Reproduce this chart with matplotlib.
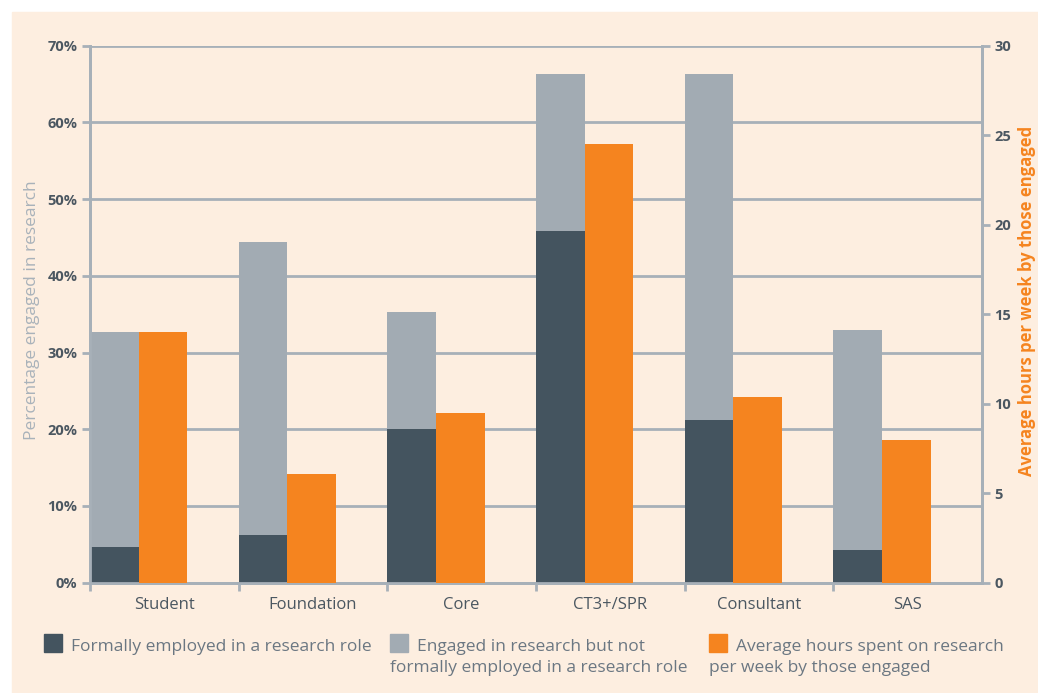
import matplotlib.pyplot as plt
from matplotlib.patches import Rectangle
import numpy as np

grades = ["Student", "Foundation", "Core", "CT3+/SPR", "Consultant", "SAS"]
formal = [4.7, 6.2, 20.0, 45.8, 21.2, 4.3]
engaged_total = [32.7, 44.4, 35.3, 66.3, 66.3, 33.0]
hours = [14.0, 6.1, 9.5, 24.5, 10.4, 8.0]
pct_ticks = [0, 10, 20, 30, 40, 50, 60, 70]
hour_ticks = [0, 5, 10, 15, 20, 25, 30]

informal = [t - f for t, f in zip(engaged_total, formal)]

dark = "#44545f"
grey = "#a2abb3"
orange = "#f5841f"
bg = "#fdeee0"
line = "#a7b0b8"
txt = "#4b5761"

plt.rcParams['font.family'] = ['Open Sans', 'DejaVu Sans']

fig = plt.figure(figsize=(10.38, 6.93), dpi=100, facecolor="white")
fig.patches.append(Rectangle((12 / 1038, 0), 1, (693 - 12) / 693,
                             transform=fig.transFigure, color=bg, zorder=-10))

ax = fig.add_axes([90 / 1038, 1 - 582.7 / 693, 892 / 1038, 537 / 693])
ax.set_facecolor("none")
ax2 = ax.twinx()
ax2.set_facecolor("none")

x = np.arange(len(grades))
w = 0.327
ax.bar(x, formal, w, align="edge", color=dark, zorder=3)
ax.bar(x, informal, w, bottom=formal, align="edge", color=grey, zorder=3)
ax2.bar(x + w, hours, w, align="edge", color=orange, zorder=3)

ax.set_xlim(0, 6)
ax.set_ylim(0, 70)
ax2.set_ylim(0, 30)

ax.set_yticks(pct_ticks)
ax.set_yticklabels([f"{v}%" for v in pct_ticks])
ax2.set_yticks(hour_ticks)
ax.grid(axis="y", color=line, lw=2, zorder=1)
ax.set_axisbelow(True)

ax.set_xticks(x + 0.5)
ax.set_xticklabels(grades)
ax.set_xticks(np.arange(0, 6), minor=True)
ax.tick_params(axis="x", which="major", length=0, pad=10, labelsize=12, labelcolor=txt)
ax.tick_params(axis="x", which="minor", length=6, width=2, color=line)
ax.tick_params(axis="y", length=6, width=2, color=line, labelsize=10.5, labelcolor=txt, pad=3)
ax2.tick_params(axis="y", length=6, width=2, color=line, labelsize=10.5, labelcolor=txt, pad=3)
for lab in ax.get_yticklabels() + ax2.get_yticklabels():
    lab.set_fontweight("bold")

for a in (ax, ax2):
    a.spines["top"].set_visible(False)
    for s in ("left", "right", "bottom"):
        a.spines[s].set_color(line)
        a.spines[s].set_linewidth(2)

fig.text(32 / 1038, 1 - 310 / 693, "Percentage engaged in research", rotation=90,
         ha="center", va="center", fontsize=12.5, color="#a9b2ba")
fig.text(1027 / 1038, 1 - 301 / 693, "Average hours per week by those engaged", rotation=90,
         ha="center", va="center", fontsize=12, color=orange, fontweight="bold")

# legend: square, first line beside it, second line wraps under the square
legend_items = [
    (44, dark, "Formally employed in a research role", ""),
    (390, grey, "Engaged in research but not", "formally employed in a research role"),
    (709, orange, "Average hours spent on research", "per week by those engaged"),
]
for lx, col, l1, l2 in legend_items:
    fig.patches.append(Rectangle((lx / 1038, 1 - 652 / 693), 18 / 1038, 18 / 693,
                                 transform=fig.transFigure, color=col, zorder=2))
    fig.text((lx + 27) / 1038, 1 - 651 / 693, l1, ha="left", va="baseline",
             fontsize=12.5, color="#6b7782")
    if l2:
        fig.text(lx / 1038, 1 - 672 / 693, l2, ha="left", va="baseline",
                 fontsize=12.5, color="#6b7782")

fig.savefig("out.png", dpi=100, facecolor=fig.get_facecolor())
